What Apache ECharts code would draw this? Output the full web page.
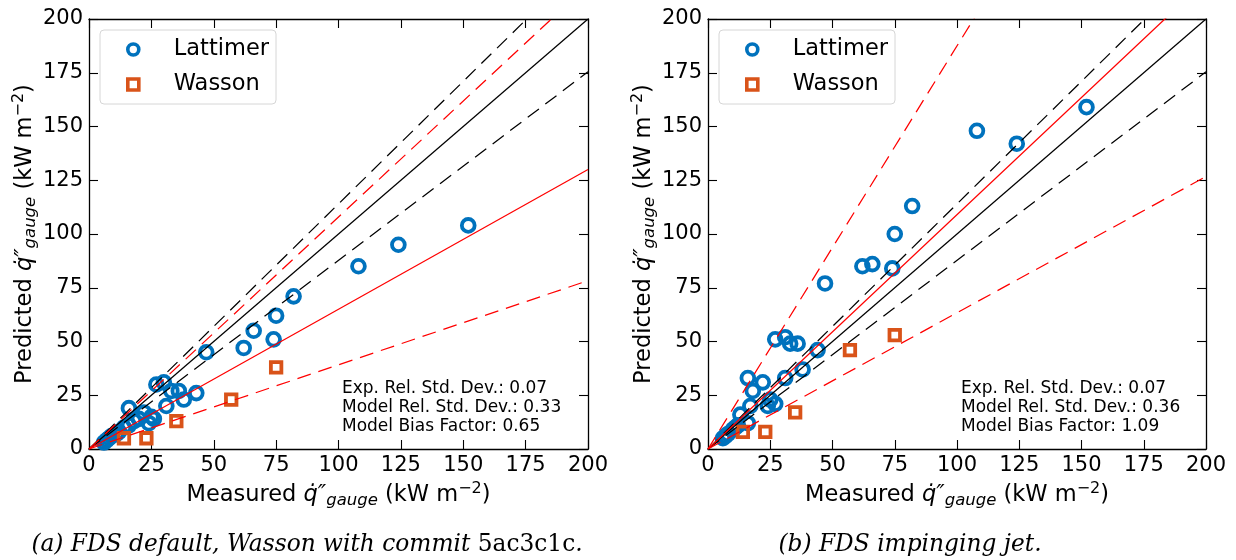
<!DOCTYPE html>
<html>
<head>
<meta charset="utf-8">
<script src="https://cdn.jsdelivr.net/npm/echarts@6/dist/echarts.min.js"></script>
<style>
  html, body { margin: 0; padding: 0; background: #fff; }
  #chart { width: 1236px; height: 560px; }
</style>
</head>
<body>
<div id="chart"></div>
<script>
// Axis range and tick spacing shared by both panels (kW m^-2)
const AXIS_MIN = 0;
const AXIS_MAX = 200;
const TICK_STEP = 25;

// Panel (a): FDS default
const lattimerDefault = [
  [6, 3], [7, 4], [8, 5], [9, 6], [11, 7], [12, 8], [14, 10], [16, 11], [16, 19],
  [18, 13], [20, 14], [22, 17], [24, 12], [25, 15], [26, 14], [27, 30], [30, 31],
  [31, 20], [33, 27], [36, 27], [38, 23], [43, 26], [47, 45], [62, 47], [66, 55],
  [74, 51], [75, 62], [82, 71], [108, 85], [124, 95], [152, 104]
];
const wassonDefault = [[14, 5], [23, 5], [35, 13], [57, 23], [75, 38]];

// Panel (b): FDS impinging jet
const lattimerJet = [
  [6, 5], [7, 6], [8, 7], [10, 9], [11, 10], [12, 11], [13, 16], [16, 12], [16, 33],
  [17, 20], [18, 27], [22, 31], [24, 20], [25, 23], [27, 21], [27, 51], [31, 52],
  [31, 33], [33, 49], [36, 49], [38, 37], [44, 46], [47, 77], [62, 85], [66, 86],
  [74, 84], [75, 100], [82, 113], [108, 148], [124, 142], [152, 159]
];
const wassonJet = [[14, 8], [23, 8], [35, 17], [57, 46], [75, 53]];

// Statistics printed in each panel: exp. rel. std. dev., model rel. std. dev., bias factor
const statLabels = ['Exp. Rel. Std. Dev.', 'Model Rel. Std. Dev.', 'Model Bias Factor'];
const statsDefault = [0.07, 0.33, 0.65];
const statsJet = [0.07, 0.36, 1.09];

// Sub-figure captions: italic text, upright commit hash, italic tail
const captions = [
  ['(a) FDS default, Wasson with commit ', '5ac3c1c', '.'],
  ['(b) FDS impinging jet.', '', '']
];

const BLUE = '#0072BD';
const ORANGE = '#D95319';
const FONT = 'DejaVu Sans';

const grids = [
  { left: 89, top: 19, width: 499, height: 430 },
  { left: 708, top: 19, width: 498, height: 430 }
];

const axisNameRich = {
  n: { fontSize: 22.5, fontFamily: FONT, color: '#000', lineHeight: 28 },
  q: { fontSize: 22.5, fontFamily: FONT, fontStyle: 'italic', color: '#000', lineHeight: 28 },
  s: { fontSize: 16.5, fontFamily: FONT, fontStyle: 'italic', color: '#000', lineHeight: 14, verticalAlign: 'bottom' },
  p: { fontSize: 16, fontFamily: FONT, color: '#000', lineHeight: 13, verticalAlign: 'top' }
};
const axisName = (word) => '{n|' + word + ' }{q|q\u0307\u2033}{s|gauge}{n| (kW m}{p|\u22122}{n|)}';

const xAxes = [];
const yAxes = [];
grids.forEach((g, i) => {
  const base = {
    gridIndex: i, type: 'value', min: AXIS_MIN, max: AXIS_MAX, interval: TICK_STEP,
    splitLine: { show: false },
    axisLine: { show: true, onZero: false, lineStyle: { color: '#000', width: 1.3 } },
    axisTick: { show: true, inside: true, length: 9, lineStyle: { color: '#000', width: 1.1 } }
  };
  xAxes.push(Object.assign({}, base, {
    position: 'bottom',
    axisLabel: { show: true, color: '#000', fontSize: 21, fontFamily: FONT, margin: 6, showMinLabel: true, showMaxLabel: true },
    name: axisName('Measured'), nameLocation: 'middle', nameGap: 25,
    nameTextStyle: { rich: axisNameRich }
  }));
  xAxes.push(Object.assign({}, base, { position: 'top', axisLabel: { show: false } }));
  yAxes.push(Object.assign({}, base, {
    position: 'left',
    axisLabel: { show: true, color: '#000', fontSize: 21, fontFamily: FONT, margin: 6, showMinLabel: true, showMaxLabel: true },
    name: axisName('Predicted'), nameLocation: 'middle', nameGap: 48, nameRotate: 90,
    nameTextStyle: { rich: axisNameRich }
  }));
  yAxes.push(Object.assign({}, base, { position: 'right', axisLabel: { show: false } }));
});

// Reference lines through the origin with a given slope, clipped to the plot area
function refLine(panel, slope, color, dashed) {
  return {
    type: 'line', xAxisIndex: panel * 2, yAxisIndex: panel * 2,
    data: [[0, 0], [AXIS_MAX, AXIS_MAX * slope]],
    symbol: 'none', silent: true, clip: true, z: 5,
    lineStyle: { color: color, width: 1.25, type: dashed ? [14, 8] : 'solid' }
  };
}
function panelLines(panel, stats) {
  const e = 1 + 2 * stats[0];
  const m = 1 + 2 * stats[1];
  const d = stats[2];
  return [
    refLine(panel, 1, '#000', false),
    refLine(panel, e, '#000', true),
    refLine(panel, 1 / e, '#000', true),
    refLine(panel, d, '#ff0000', false),
    refLine(panel, d * m, '#ff0000', true),
    refLine(panel, d / m, '#ff0000', true)
  ];
}

function scatter(panel, name, data, symbol, color, size) {
  return {
    type: 'scatter', name: name, xAxisIndex: panel * 2, yAxisIndex: panel * 2,
    data: data, symbol: symbol, symbolSize: size, z: 3,
    itemStyle: { color: 'rgba(0,0,0,0)', borderColor: color, borderWidth: 3.8, opacity: 1 },
    emphasis: { disabled: true }
  };
}

const series = [
  scatter(0, 'Lattimer', lattimerDefault, 'circle', BLUE, 12.8),
  scatter(0, 'Wasson', wassonDefault, 'rect', ORANGE, 10.5),
  ...panelLines(0, statsDefault),
  scatter(1, 'Lattimer', lattimerJet, 'circle', BLUE, 12.8),
  scatter(1, 'Wasson', wassonJet, 'rect', ORANGE, 10.5),
  ...panelLines(1, statsJet)
];

const legendData = [
  { name: 'Lattimer', icon: 'circle', itemStyle: { color: 'rgba(0,0,0,0)', borderColor: BLUE, borderWidth: 3.6, opacity: 1 } },
  { name: 'Wasson', icon: 'rect', itemStyle: { color: 'rgba(0,0,0,0)', borderColor: ORANGE, borderWidth: 3.6, opacity: 1 } }
];
const legends = grids.map((g) => ({
  left: g.left + 11, top: 30, orient: 'vertical',
  data: legendData, selectedMode: false,
  itemWidth: 11, itemHeight: 11, itemGap: 12,
  padding: [8, 7, 8, 26],
  backgroundColor: '#fff', borderColor: '#d6d6d6', borderWidth: 1, borderRadius: 4,
  formatter: (name) => '{g|}{t|' + name + '}',
  textStyle: {
    rich: {
      g: { width: 30 },
      t: { fontSize: 22.5, fontFamily: FONT, color: '#000', lineHeight: 22 }
    }
  }
}));

const graphics = [];
[statsDefault, statsJet].forEach((st, i) => {
  graphics.push({
    type: 'text', left: grids[i].left + 253, top: 379, z: 10,
    style: {
      text: statLabels.map((l, k) => l + ': ' + st[k].toFixed(2)).join('\n'),
      fontSize: 17, fontFamily: FONT, fill: '#000', lineHeight: 19
    }
  });
});
const captionCenters = [307, 910];
captions.forEach((c, i) => {
  graphics.push({
    type: 'text', x: captionCenters[i], y: 545, z: 10,
    style: {
      text: '{i|' + c[0] + '}' + (c[1] ? '{u|' + c[1] + '}' : '') + (c[2] ? '{i|' + c[2] + '}' : ''),
      align: 'center', verticalAlign: 'middle',
      rich: {
        i: { fontSize: 23.3, fontFamily: 'DejaVu Serif', fontStyle: 'italic', fill: '#000' },
        u: { fontSize: 23.3, fontFamily: 'DejaVu Serif', fill: '#000' }
      }
    }
  });
});

const chart = echarts.init(document.getElementById('chart'), null, { renderer: 'canvas' });
chart.setOption({
  animation: false,
  backgroundColor: '#fff',
  grid: grids,
  xAxis: xAxes,
  yAxis: yAxes,
  legend: legends,
  series: series,
  graphic: graphics
});
</script>
</body>
</html>
